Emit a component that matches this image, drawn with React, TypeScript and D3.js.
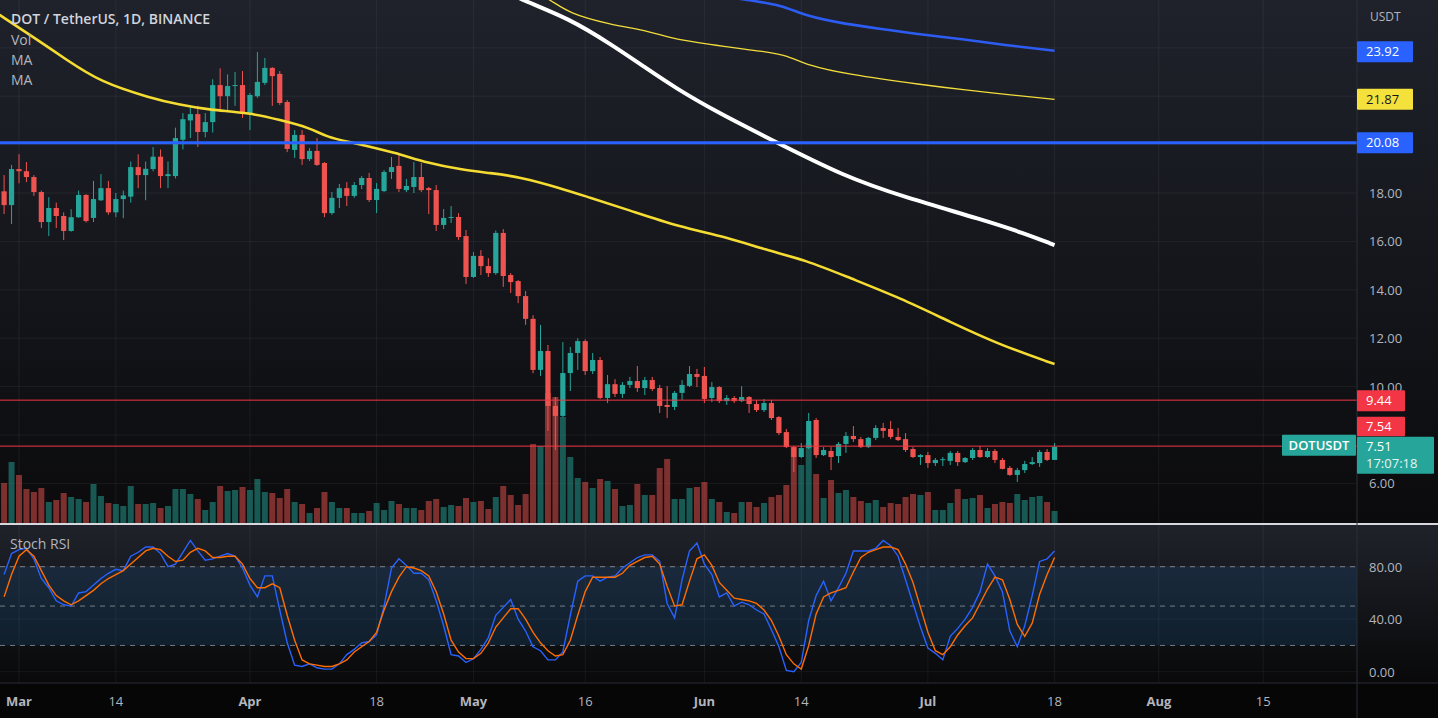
import React, { useEffect } from 'react';
import * as d3 from 'd3';

// DOT / TetherUS, 1D, BINANCE - daily candles from Feb 27 to Jul 18 2022
const opens = [
  18.07, 17.5, 18.99, 18.9, 18.66, 18.04, 16.8, 17.38, 17.05, 16.43,
  17.0, 17.92, 16.97, 17.7, 18.2, 17.2, 17.75, 17.85, 19.07, 18.74,
  18.99, 19.5, 18.7, 18.7, 20.2, 21.0, 21.26, 20.52, 20.93, 22.46,
  22.0, 22.42, 22.46, 21.26, 22.0, 22.55, 23.17, 22.92, 21.76, 19.78,
  20.4, 19.4, 19.74, 19.24, 17.17, 17.8, 18.2, 17.88, 18.33, 18.62,
  17.71, 18.08, 18.87, 19.12, 18.12, 18.25, 18.66, 18.2, 18.12, 16.68,
  16.97, 17.01, 16.22, 14.53, 15.4, 14.98, 14.69, 16.35, 14.61, 14.36,
  13.74, 12.8, 10.69, 11.47, 9.2, 8.79, 10.56, 11.39, 11.88, 10.64,
  11.1, 9.53, 10.1, 9.7, 10.07, 10.23, 9.94, 10.27, 9.94, 9.24,
  9.16, 9.74, 10.03, 10.52, 10.44, 9.53, 9.98, 9.4, 9.53, 9.4,
  9.57, 9.28, 9.03, 9.32, 8.74, 8.12, 7.5, 7.09, 7.46, 8.62,
  7.17, 7.34, 7.13, 7.63, 7.96, 7.83, 7.5, 7.88, 8.29, 8.25,
  7.92, 7.83, 7.42, 7.09, 7.17, 6.84, 6.97, 6.93, 7.26, 6.88,
  7.05, 7.38, 7.09, 7.34, 6.97, 6.64, 6.35, 6.55, 6.8, 6.84,
  7.3, 6.97,
];
const highs = [
  18.74, 19.16, 19.6, 19.28, 18.74, 18.1, 17.83, 17.6, 17.2, 17.33,
  18.1, 17.95, 18.5, 18.78, 18.5, 18.0, 18.1, 19.3, 19.6, 19.3,
  19.9, 19.8, 19.3, 20.7, 21.3, 21.55, 21.6, 21.3, 22.7, 23.15,
  22.9, 23.0, 23.04, 22.13, 23.83, 23.58, 23.2, 23.04, 21.84, 20.6,
  20.6, 19.86, 20.27, 19.28, 18.04, 18.37, 18.45, 18.45, 18.7, 18.83,
  18.41, 18.95, 19.49, 19.57, 18.58, 19.28, 19.24, 18.25, 18.33, 17.34,
  17.46, 17.17, 16.47, 15.56, 15.64, 15.31, 16.45, 16.51, 14.69, 14.4,
  13.95, 12.95, 12.55, 11.72, 9.57, 11.84, 11.64, 12.0, 11.95, 11.39,
  11.22, 10.48, 10.31, 10.19, 10.4, 10.85, 10.4, 10.4, 10.07, 10.02,
  9.82, 10.27, 10.85, 10.73, 10.81, 10.19, 10.02, 9.65, 9.61, 10.02,
  9.61, 9.45, 9.49, 9.45, 8.78, 8.25, 7.55, 7.67, 8.91, 8.7,
  7.5, 7.5, 7.71, 8.12, 8.37, 7.92, 7.92, 8.41, 8.5, 8.58,
  8.29, 8.08, 7.5, 7.21, 7.3, 7.05, 7.09, 7.34, 7.34, 7.09,
  7.46, 7.55, 7.46, 7.42, 7.05, 6.72, 6.64, 6.93, 7.09, 7.38,
  7.42, 7.67,
];
const lows = [
  17.13, 16.72, 18.4, 18.45, 17.88, 16.55, 16.22, 16.55, 16.06, 16.4,
  16.97, 16.78, 16.8, 17.67, 17.1, 17.0, 16.96, 17.6, 18.2, 17.7,
  18.9, 18.2, 18.2, 18.6, 19.8, 20.27, 19.9, 20.3, 20.5, 21.4,
  21.4, 21.6, 21.1, 20.6, 21.93, 22.46, 21.6, 21.64, 19.69, 19.45,
  19.16, 19.32, 19.12, 17.0, 17.1, 17.38, 17.46, 17.8, 18.16, 17.63,
  17.17, 18.04, 18.58, 18.04, 18.04, 18.0, 18.04, 17.13, 16.43, 16.51,
  16.76, 16.06, 14.24, 14.49, 14.61, 14.53, 14.62, 14.12, 13.87, 13.45,
  12.55, 10.55, 10.44, 8.17, 7.38, 8.74, 9.82, 10.69, 10.48, 10.52,
  9.49, 9.32, 9.57, 9.53, 9.94, 9.78, 9.65, 9.82, 8.91, 8.7,
  9.03, 9.45, 9.98, 9.98, 9.32, 9.36, 9.32, 9.24, 9.32, 9.36,
  8.91, 8.95, 8.95, 8.62, 8.0, 7.46, 6.47, 7.05, 7.42, 7.05,
  7.13, 6.55, 6.84, 7.26, 7.71, 7.46, 7.46, 7.79, 7.88, 7.83,
  7.75, 7.3, 7.05, 6.76, 6.64, 6.72, 6.72, 6.76, 6.72, 6.84,
  6.97, 7.05, 7.05, 6.84, 6.58, 6.31, 6.06, 6.43, 6.76, 6.68,
  6.93, 6.97,
];
const closes = [
  17.5, 18.99, 18.9, 18.66, 18.04, 16.8, 17.38, 17.05, 16.43, 17.0,
  17.92, 16.84, 17.75, 18.2, 17.2, 17.75, 17.9, 19.07, 18.74, 19.0,
  19.5, 18.7, 18.78, 20.27, 21.05, 21.26, 20.52, 20.93, 22.46, 22.0,
  22.42, 22.46, 21.3, 22.05, 22.59, 23.17, 22.83, 21.72, 19.82, 20.4,
  19.4, 19.74, 19.16, 17.17, 17.8, 18.2, 17.88, 18.33, 18.62, 17.71,
  18.17, 18.87, 19.07, 18.17, 18.29, 18.66, 18.12, 18.12, 16.68, 16.97,
  17.01, 16.18, 14.53, 15.4, 14.98, 14.69, 16.35, 14.57, 14.32, 13.74,
  12.8, 10.69, 11.47, 9.2, 8.79, 10.56, 11.39, 11.88, 10.64, 11.1,
  9.53, 10.1, 9.7, 10.07, 10.23, 9.94, 10.27, 9.9, 9.2, 9.16,
  9.74, 10.07, 10.52, 10.4, 9.49, 9.98, 9.4, 9.53, 9.4, 9.57,
  9.28, 9.03, 9.32, 8.7, 8.08, 7.5, 7.09, 7.46, 8.58, 7.17,
  7.38, 7.09, 7.63, 7.96, 7.83, 7.5, 7.88, 8.29, 8.17, 7.92,
  7.79, 7.38, 7.09, 7.17, 6.84, 6.97, 7.0, 7.26, 6.88, 7.05,
  7.38, 7.09, 7.34, 6.97, 6.6, 6.35, 6.55, 6.8, 6.88, 7.3,
  6.97, 7.51,
];
// volume, millions of DOT
const volumes = [
  4.0, 6.1, 4.8, 3.4, 3.1, 3.5, 2.1, 2.3, 3.0, 2.6,
  2.4, 2.1, 3.9, 2.7, 2.0, 1.9, 1.7, 3.7, 1.9, 1.9,
  2.0, 1.5, 1.7, 3.4, 3.4, 2.9, 2.4, 1.3, 2.1, 3.7,
  3.2, 3.3, 3.6, 3.3, 4.4, 3.1, 3.0, 2.5, 3.4, 2.1,
  1.9, 1.0, 1.5, 3.1, 2.1, 1.5, 1.5, 1.0, 1.0, 1.2,
  2.0, 1.3, 2.2, 1.9, 1.5, 1.5, 1.3, 2.2, 2.4, 1.6,
  1.8, 1.7, 2.5, 2.1, 2.2, 1.4, 2.6, 3.7, 2.8, 1.8,
  2.9, 7.9, 7.7, 13.0, 12.6, 10.6, 6.6, 4.5, 4.1, 3.5,
  4.4, 4.2, 3.4, 1.7, 1.8, 3.9, 2.8, 2.8, 5.5, 6.4,
  2.4, 2.4, 3.5, 3.6, 4.1, 2.4, 2.1, 1.1, 1.0, 2.1,
  2.1, 1.6, 2.0, 2.6, 2.8, 3.8, 7.6, 5.8, 8.0, 4.9,
  2.5, 4.3, 3.0, 3.3, 2.6, 2.2, 2.0, 2.3, 1.6, 2.0,
  1.9, 2.6, 2.9, 2.8, 3.1, 1.3, 1.3, 2.0, 3.4, 2.4,
  2.5, 2.8, 1.5, 1.9, 2.1, 2.0, 2.9, 2.3, 2.6, 2.7,
  2.1, 1.2,
];
// Stoch RSI %K and %D
const stochK = [
  74, 90, 93, 94, 86, 71, 64, 54, 51, 50,
  60, 61, 66, 71, 75, 78, 77, 88, 91, 95,
  95, 90, 80, 82, 91, 100, 92, 85, 86, 88,
  90, 88, 79, 66, 57, 73, 73, 47, 22, 5,
  4, 6, 3, 2, 2, 6, 13, 17, 22, 23,
  28, 50, 79, 86, 81, 75, 75, 70, 54, 35,
  13, 12, 7, 10, 17, 26, 43, 49, 55, 40,
  31, 19, 16, 9, 9, 15, 43, 69, 73, 73,
  69, 72, 73, 79, 83, 87, 89, 89, 84, 52,
  41, 70, 92, 98, 82, 74, 57, 60, 50, 53,
  51, 47, 44, 32, 19, 1, 0, 7, 39, 58,
  69, 54, 64, 75, 92, 92, 92, 94, 100, 96,
  88, 70, 52, 34, 18, 14, 9, 27, 33, 40,
  49, 61, 82, 73, 61, 31, 19, 35, 58, 84,
  86, 92,
];
const stochD = [
  57, 74, 88, 93, 88, 77, 66, 58, 54, 51,
  54, 58, 62, 67, 71, 74, 77, 82, 87, 92,
  94, 93, 88, 84, 85, 91, 94, 92, 87, 87,
  88, 88, 82, 71, 64, 64, 67, 64, 43, 24,
  9, 6, 5, 4, 4, 6, 9, 15, 19, 23,
  30, 47, 61, 72, 80, 79, 77, 73, 61, 44,
  24, 15, 10, 10, 14, 22, 34, 41, 48, 48,
  40, 30, 22, 16, 12, 13, 24, 43, 61, 72,
  72, 72, 72, 75, 81, 84, 87, 88, 82, 65,
  50, 51, 69, 86, 89, 81, 68, 62, 56, 55,
  54, 52, 47, 39, 27, 13, 6, 2, 20, 44,
  57, 60, 62, 64, 76, 87, 91, 93, 95, 95,
  93, 82, 68, 49, 30, 16, 13, 19, 28, 35,
  41, 52, 63, 72, 70, 55, 36, 27, 37, 59,
  74, 87,
];

// moving averages: [day index, value]
const maSlow: [number, number][] = [
  [-0.6, 25.36], [3.9, 24.45], [8.4, 23.5], [12.9, 22.59], [19.6, 21.93], [23.6, 21.64],
  [27.6, 21.43], [33, 21.31], [37, 21.02], [41.1, 20.69], [43.3, 20.31], [46.4, 20.11],
  [52.7, 19.65], [56.8, 19.24], [61.6, 18.95], [65.2, 18.83], [69.3, 18.66], [74.6, 18.21],
  [78.4, 17.83], [83.8, 17.3], [90.6, 16.6], [97, 16.18], [102.3, 15.64], [107.6, 15.23],
  [113.5, 14.49], [120.3, 13.66], [127, 12.67], [133.7, 11.72], [141, 10.93],
];
const maWhite: [number, number][] = [
  [66.6, 26.47], [69.4, 25.98], [75.8, 25.22], [81.6, 24.12], [85.9, 23.22], [90.1, 22.34],
  [95.9, 21.31], [102.3, 20.31], [112.9, 18.66], [120.9, 17.83],
  [131.5, 16.88], [136.8, 16.35], [141, 15.85],
];
const maThin: [number, number][] = [
  [70.6, 26.39], [73.4, 25.98], [75.8, 25.43], [81.1, 24.98], [86.9, 24.67], [89, 24.43],
  [94.3, 24.14], [102.3, 23.84], [105, 23.7], [108.1, 23.25], [112.9, 22.92], [123.5, 22.46],
  [128.9, 22.26], [135.2, 22.05], [141, 21.87],
];
const maBlue: [number, number][] = [
  [96.1, 26.15], [99.6, 25.98], [104.4, 25.77], [107.6, 25.31], [112.9, 24.98], [118.2, 24.76],
  [123.5, 24.53], [128.9, 24.35], [134.1, 24.12], [141, 23.88],
];

const priceTicks = [6, 8, 10, 12, 14, 16, 18, 20, 22, 24];
const rsiTicks = [0, 40, 80];
const timeTickIdx = [2, 15, 33, 50, 63, 78, 94, 107, 124, 141, 155, 169];
const timeTickLabels = ['Mar', '14', 'Apr', '18', 'May', '16', 'Jun', '14', 'Jul', '18', 'Aug', '15'];

const blueLevel = 20.08;
const redLevels = [9.44, 7.54];

const W = 1438;
const H = 718;
const PLOT_R = 1357;
const MAIN_BOTTOM = 523;
const RSI_TOP = 525;
const RSI_BOTTOM = 683;
const FONT = "'Open Sans', 'DejaVu Sans', sans-serif";
const UP = '#26a69a';
const DOWN = '#ef5350';

export default function App() {
  useEffect(() => {
    document.body.style.margin = '0';
    document.body.style.background = '#000';
  }, []);

  const x = d3.scaleLinear().domain([0, 141]).range([4.1, 4.1 + 141 * 7.45]);
  const y = d3.scaleLinear().domain([18, 6]).range([193, 483.4]);
  const yVol = d3.scaleLinear().domain([0, 13]).range([MAIN_BOTTOM, 393]);
  const yRsi = d3.scaleLinear().domain([0, 100]).range([671.7, 540.45]);

  const maLine = d3.line<[number, number]>()
    .x(d => x(d[0]))
    .y(d => y(d[1]))
    .curve(d3.curveBasis);
  const rsiLine = d3.line<number>()
    .x((_, i) => x(i))
    .y(d => yRsi(d));

  const bodyW = 5.2;
  const volW = 6;

  // label boxes on the price axis
  const curY = y(closes[closes.length - 1]);
  const curTop = curY - 10;

  const boxLevels = [
    { y: y(maBlue[maBlue.length - 1][1]) + 1, txt: '23.92', bg: '#2962ff', fg: '#ffffff', w: 56 },
    { y: y(maThin[maThin.length - 1][1]), txt: '21.87', bg: '#f5e13c', fg: '#131722', w: 56 },
    { y: y(blueLevel), txt: '20.08', bg: '#2962ff', fg: '#ffffff', w: 56 },
    { y: y(redLevels[0]) + 0.5, txt: '9.44', bg: '#f23645', fg: '#ffffff', w: 48 },
  ];
  // tick labels hidden behind the value boxes are not drawn
  const covered = (yy: number) =>
    boxLevels.some(b => Math.abs(b.y - yy) < 11) || (yy > curTop - 22 && yy < curTop + 37);

  return (
    <div style={{ position: 'absolute', left: 0, top: 0, width: W, height: H }}>
      <svg width={W} height={H} style={{ display: 'block' }}>
        <defs>
          <linearGradient id="bgMain" x1="0" y1="0" x2="0" y2="1">
            <stop offset="0%" stopColor="#1f222b" />
            <stop offset="100%" stopColor="#0b0b0d" />
          </linearGradient>
          <linearGradient id="bgRsi" x1="0" y1="0" x2="0" y2="1">
            <stop offset="0%" stopColor="#1f222a" />
            <stop offset="100%" stopColor="#09090a" />
          </linearGradient>
          <clipPath id="clipMain">
            <rect x={0} y={0} width={PLOT_R} height={MAIN_BOTTOM} />
          </clipPath>
          <clipPath id="clipRsi">
            <rect x={0} y={RSI_TOP} width={PLOT_R} height={RSI_BOTTOM - RSI_TOP} />
          </clipPath>
        </defs>

        {/* backgrounds */}
        <rect x={0} y={0} width={W} height={MAIN_BOTTOM} fill="url(#bgMain)" />
        <rect x={0} y={RSI_TOP} width={W} height={RSI_BOTTOM - RSI_TOP} fill="url(#bgRsi)" />
        <rect x={0} y={RSI_BOTTOM} width={W} height={H - RSI_BOTTOM} fill="#060606" />

        {/* grid */}
        {priceTicks.map(t => (
          <line key={'g' + t} x1={0} x2={PLOT_R} y1={y(t)} y2={y(t)} stroke="rgba(255,255,255,0.055)" />
        ))}
        {rsiTicks.map(t => (
          <line key={'rg' + t} x1={0} x2={PLOT_R} y1={yRsi(t)} y2={yRsi(t)} stroke="rgba(255,255,255,0.05)" />
        ))}
        {timeTickIdx.map(i => (
          <line key={'v' + i} x1={x(i)} x2={x(i)} y1={0} y2={RSI_BOTTOM} stroke="rgba(255,255,255,0.055)" />
        ))}

        <g clipPath="url(#clipMain)">
          {/* volume */}
          {volumes.map((v, i) => (
            <rect key={'vol' + i} x={x(i) - volW / 2} y={yVol(v)} width={volW} height={MAIN_BOTTOM - yVol(v)}
              fill={closes[i] >= opens[i] ? UP : DOWN} opacity={0.5} />
          ))}

          {/* candles */}
          {closes.map((c, i) => {
            const o = opens[i];
            const col = c >= o ? UP : DOWN;
            const top = y(Math.max(o, c));
            const h = Math.max(1, Math.abs(y(o) - y(c)));
            return (
              <g key={'c' + i}>
                <line x1={x(i)} x2={x(i)} y1={y(highs[i])} y2={y(lows[i])} stroke={col} strokeWidth={1} />
                <rect x={x(i) - bodyW / 2} y={top} width={bodyW} height={h} fill={col} />
              </g>
            );
          })}

          {/* moving averages */}
          <path d={maLine(maThin) || ''} fill="none" stroke="#f2dc3c" strokeWidth={1.3} />
          <path d={maLine(maBlue) || ''} fill="none" stroke="#2c5cf2" strokeWidth={2.6} />
          <path d={maLine(maWhite) || ''} fill="none" stroke="#ffffff" strokeWidth={4} />
          <path d={maLine(maSlow) || ''} fill="none" stroke="#f5dc32" strokeWidth={2.6} />

          {/* horizontal levels */}
          <line x1={0} x2={PLOT_R} y1={y(blueLevel)} y2={y(blueLevel)} stroke="#2962ff" strokeWidth={3} />
          {redLevels.map(l => (
            <line key={'r' + l} x1={0} x2={PLOT_R} y1={y(l)} y2={y(l)} stroke="#f23645" strokeWidth={1} />
          ))}
        </g>

        {/* pane separator */}
        <rect x={0} y={MAIN_BOTTOM} width={W} height={2} fill="#d6d8de" />

        {/* stoch rsi pane */}
        <g clipPath="url(#clipRsi)">
          <rect x={0} y={yRsi(80)} width={PLOT_R} height={yRsi(20) - yRsi(80)} fill="rgba(33,150,243,0.12)" />
          {[80, 50, 20].map(l => (
            <line key={'d' + l} x1={0} x2={PLOT_R} y1={yRsi(l)} y2={yRsi(l)}
              stroke="rgba(200,203,212,0.55)" strokeDasharray="5,5" />
          ))}
          <path d={rsiLine(stochK) || ''} fill="none" stroke="#2962ff" strokeWidth={1.4} />
          <path d={rsiLine(stochD) || ''} fill="none" stroke="#ff6d00" strokeWidth={1.4} />
        </g>
        <text x={10} y={549} fill="#b2b5be" fontSize={14} fontFamily={FONT}>Stoch RSI</text>

        {/* time axis */}
        <line x1={0} x2={W} y1={RSI_BOTTOM} y2={RSI_BOTTOM} stroke="#2a2e39" />
        {timeTickIdx.map((idx, k) => {
          const isMonth = k % 2 === 0;
          return (
            <text key={'t' + idx} x={x(idx)} y={706} textAnchor="middle" fill="#b2b5be" fontSize={13}
              fontWeight={isMonth ? 700 : 400} fontFamily={FONT}>
              {timeTickLabels[k]}
            </text>
          );
        })}

        {/* price axis */}
        <line x1={PLOT_R} x2={PLOT_R} y1={0} y2={H} stroke="#2a2e39" />
        <text x={1370} y={21} fill="#b2b5be" fontSize={12} fontFamily={FONT}>USDT</text>
        {priceTicks.filter(t => !covered(y(t)) || t === 10).map(t => (
          <text key={'p' + t} x={1369} y={y(t) + 5} fill="#b2b5be" fontSize={13} fontFamily={FONT}>
            {t.toFixed(2)}
          </text>
        ))}
        {rsiTicks.map(t => (
          <text key={'rp' + t} x={1369} y={yRsi(t) + 5} fill="#b2b5be" fontSize={13} fontFamily={FONT}>
            {t.toFixed(2)}
          </text>
        ))}

        {boxLevels.map(b => (
          <g key={b.txt}>
            <rect x={PLOT_R} y={b.y - 10.5} width={b.w} height={21} fill={b.bg} rx={1} />
            <text x={PLOT_R + 9} y={b.y + 4.5} fill={b.fg} fontSize={13} fontFamily={FONT}>{b.txt}</text>
          </g>
        ))}
        <rect x={PLOT_R} y={curTop - 20} width={48} height={19.5} fill="#f23645" rx={1} />
        <text x={PLOT_R + 9} y={curTop - 5.5} fill="#ffffff" fontSize={13} fontFamily={FONT}>
          {redLevels[1].toFixed(2)}
        </text>
        <rect x={PLOT_R} y={curTop} width={77} height={37} fill="#26a69a" rx={1} />
        <text x={PLOT_R + 9} y={curTop + 14.5} fill="#ffffff" fontSize={13} fontFamily={FONT}>
          {closes[closes.length - 1].toFixed(2)}
        </text>
        <text x={PLOT_R + 9} y={curTop + 31} fill="#e6f4f2" fontSize={13} fontFamily={FONT}>17:07:18</text>
        <rect x={1282} y={curTop - 2} width={74} height={21} fill="#26a69a" rx={1} />
        <text x={1319} y={curTop + 13} textAnchor="middle" fill="#ffffff" fontSize={13} fontWeight={600} fontFamily={FONT}>
          DOTUSDT
        </text>

        {/* legend */}
        <text x={11} y={24} fill="#d1d4dc" fontSize={14} fontWeight={600} fontFamily={FONT}>
          DOT / TetherUS, 1D, BINANCE
        </text>
        <text x={11} y={45} fill="#b2b5be" fontSize={14} fontFamily={FONT}>Vol</text>
        <text x={11} y={65} fill="#b2b5be" fontSize={14} fontFamily={FONT}>MA</text>
        <text x={11} y={85} fill="#b2b5be" fontSize={14} fontFamily={FONT}>MA</text>
      </svg>
    </div>
  );
}
